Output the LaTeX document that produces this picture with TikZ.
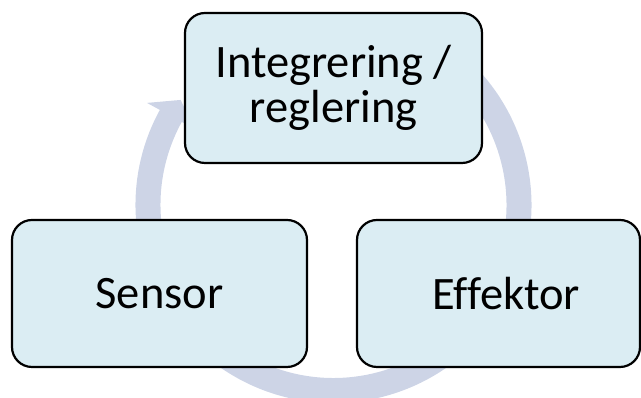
\documentclass[tikz,border=0pt]{standalone}
\usepackage{fontspec}
\setmainfont{Carlito}[Ligatures=NoCommon]
\definecolor{ringblue}{RGB}{205,212,230}
\definecolor{boxfill}{RGB}{219,237,243}
\begin{document}
\begin{tikzpicture}[x=1pt,y=1pt,
  cyclebox/.style={rectangle, rounded corners=20pt, draw=black, line width=2.2pt,
    fill=boxfill, inner sep=0pt, align=center,
    font=\fontsize{46.5}{45}\selectfont}]
  \useasboundingbox (0,0) rectangle (641,398);
  \clip (0,0) rectangle (641,398);

  % circular arrow running clockwise behind the three stages
  \coordinate (hub) at (333.5,193);
  \begin{scope}[shift={(hub)}]
    \fill[ringblue]
      (60:198) arc[start angle=60, end angle=-208.7, radius=198]
      -- (-208.7:212.6) -- (-214.5:185.5) -- (-208.7:158.5)
      -- (-208.7:173) arc[start angle=-208.7, end angle=60, radius=173]
      -- cycle;
  \end{scope}

  % the three stages
  \node[cyclebox, minimum width=297pt, minimum height=150pt] (integ) at (333.5,310)
    {Integrering /\\reglering};
  \node[cyclebox, minimum width=295pt, minimum height=147pt] (sensor) at (159.5,104.5)
    {Sensor};
  \node[cyclebox, minimum width=283pt, minimum height=147pt] (effektor) at (498.5,104.5)
    {\hspace*{15pt}Effektor};
\end{tikzpicture}
\end{document}
